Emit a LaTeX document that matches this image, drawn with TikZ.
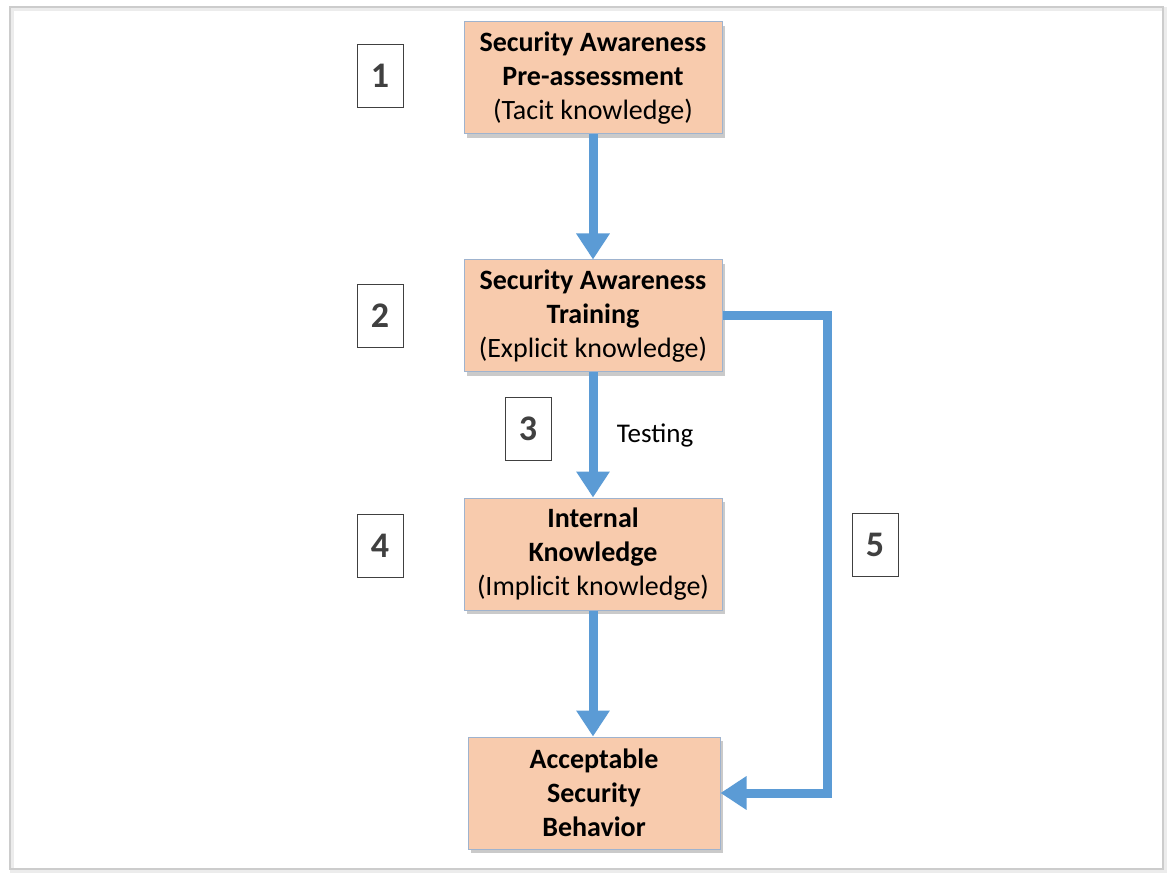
\documentclass[tikz,border=0pt]{standalone}
\usepackage{fontspec}
\setmainfont{Carlito}
\usetikzlibrary{arrows.meta, positioning, shadows}
\definecolor{boxfill}{HTML}{F8CBAD}
\definecolor{boxline}{HTML}{9FB3CE}
\definecolor{flowblue}{HTML}{5B9BD5}
\def\boxW{258pt}
\def\boxH{112pt}
\begin{document}
\begin{tikzpicture}[
    x=1pt, y=-1pt,
    >={Triangle[length=26pt,width=32pt]},
    stepbox/.style={rectangle, draw=boxline, line width=1pt, fill=boxfill,
        minimum width=\boxW, minimum height=\boxH, align=center, inner sep=2pt,
        font=\fontsize{28}{34}\selectfont,
        drop shadow={shadow xshift=3pt, shadow yshift=-4pt, fill=gray!70, opacity=0.6}},
    numbox/.style={rectangle, draw=black!75, line width=0.8pt, fill=white,
        minimum width=46pt, minimum height=63pt, inner sep=0pt,
        text=black!75, font=\fontsize{36}{36}\selectfont\bfseries},
    flow/.style={->, draw=flowblue, line width=9pt}
]
\useasboundingbox (0,0) rectangle (1170,874);
% outer frame
\draw[gray!15, line width=4pt] (12,9) rectangle (1165,871);
\draw[gray!40, line width=1.2pt] (10,7) rectangle (1163,869);

% main steps
\node[stepbox] (pre) at (593,78) {\textbf{Security Awareness}\\\textbf{Pre-assessment}\\(Tacit knowledge)};
\node[stepbox] (train) at (593,316) {\textbf{Security Awareness}\\\textbf{Training}\\(Explicit knowledge)};
\node[stepbox] (internal) at (593,554) {\textbf{Internal}\\\textbf{Knowledge}\\(Implicit knowledge)};
\node[stepbox, minimum width=252pt] (behav) at (594,793) {\textbf{Acceptable}\\\textbf{Security}\\\textbf{Behavior}};

% step numbers
\node[numbox] (n1) at (380,76) {1};
\node[numbox] (n2) at (380,316) {2};
\node[numbox] (n3) at (528,429) {3};
\node[numbox] (n4) at (380,546) {4};
\node[numbox] (n5) at (875,545) {5};

% arrows
\draw[flow] (pre.south) -- (pre.south |- train.north);
\draw[flow] (train.south) -- (train.south |- internal.north)
    node[midway, right=16pt, text=black, font=\fontsize{27}{30}\selectfont] (test) {Testing};
\draw[flow] (internal.south) -- (internal.south |- behav.north);
\draw[flow] (train.east) -- ++(105,0) |- (behav.east);
\end{tikzpicture}
\end{document}
